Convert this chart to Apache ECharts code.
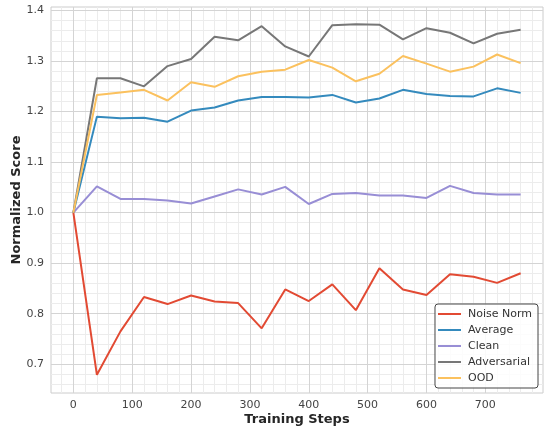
<!DOCTYPE html>
<html>
<head>
<meta charset="utf-8">
<script src="https://cdn.jsdelivr.net/npm/echarts@6/dist/echarts.min.js"></script>
<style>
  html, body { margin: 0; padding: 0; background: #fff; }
  #main { width: 544px; height: 427px; }
</style>
</head>
<body>
<div id="main"></div>
<script>
// training steps (x)
var steps = [0, 40, 80, 120, 160, 200, 240, 280, 320, 360, 400, 440, 480, 520, 560, 600, 640, 680, 720, 760];

// series values
var noiseNorm = [1.0, 0.679, 0.765, 0.833, 0.819, 0.836, 0.824, 0.821, 0.771, 0.848, 0.825, 0.858, 0.807, 0.890, 0.848, 0.837, 0.878, 0.873, 0.861, 0.880];
var average = [1.0, 1.190, 1.187, 1.188, 1.180, 1.202, 1.208, 1.222, 1.229, 1.229, 1.228, 1.233, 1.218, 1.226, 1.243, 1.235, 1.231, 1.230, 1.246, 1.237];
var clean = [1.0, 1.052, 1.027, 1.027, 1.024, 1.018, 1.032, 1.046, 1.036, 1.051, 1.017, 1.037, 1.039, 1.034, 1.034, 1.029, 1.053, 1.039, 1.036, 1.036];
var adversarial = [1.0, 1.266, 1.266, 1.250, 1.290, 1.304, 1.348, 1.341, 1.369, 1.329, 1.309, 1.371, 1.373, 1.372, 1.343, 1.365, 1.356, 1.335, 1.354, 1.362];
var ood = [1.0, 1.233, 1.238, 1.243, 1.222, 1.258, 1.249, 1.270, 1.279, 1.283, 1.302, 1.287, 1.260, 1.275, 1.310, 1.295, 1.279, 1.289, 1.313, 1.296];

// tick labels
var xMajorTicks = [0, 100, 200, 300, 400, 500, 600, 700];
var xMinorTicks = [-20, 0, 20, 40, 60, 80, 100, 120, 140, 160, 180, 200, 220, 240, 260, 280, 300, 320, 340, 360, 380, 400, 420, 440, 460, 480, 500, 520, 540, 560, 580, 600, 620, 640, 660, 680, 700, 720, 740, 760, 780];
var yMajorTicks = [0.7, 0.8, 0.9, 1.0, 1.1, 1.2, 1.3, 1.4];
var yMinorTicks = [0.66, 0.68, 0.7, 0.72, 0.74, 0.76, 0.78, 0.8, 0.82, 0.84, 0.86, 0.88, 0.9, 0.92, 0.94, 0.96, 0.98, 1.0, 1.02, 1.04, 1.06, 1.08, 1.1, 1.12, 1.14, 1.16, 1.18, 1.2, 1.22, 1.24, 1.26, 1.28, 1.3, 1.32, 1.34, 1.36, 1.38, 1.4];

var seriesNames = ['Noise Norm', 'Average', 'Clean', 'Adversarial', 'OOD'];
var seriesData = [noiseNorm, average, clean, adversarial, ood];
var colors = ['#E24A33', '#348ABD', '#988ED5', '#777777', '#FBC15E'];

var FONT = 'DejaVu Sans';

function pairs(ys) {
    var out = [];
    for (var i = 0; i < steps.length; i++) {
        out.push([steps[i], ys[i]]);
    }
    return out;
}

var chart = echarts.init(document.getElementById('main'), null, { renderer: 'canvas' });

var xRange = { min: -38, max: 798 };
var yRange = { min: 0.643, max: 1.407 };

var series = [];
for (var i = 0; i < seriesNames.length; i++) {
    series.push({
        name: seriesNames[i],
        type: 'line',
        data: pairs(seriesData[i]),
        showSymbol: false,
        symbol: 'none',
        lineStyle: { width: 2, color: colors[i] },
        itemStyle: { color: colors[i] },
        z: 3,
        animation: false
    });
}

var option = {
    animation: false,
    textStyle: { fontFamily: FONT },
    grid: {
        left: 51, right: 1, top: 7, bottom: 34,
        show: true, borderColor: '#cccccc', borderWidth: 1,
        containLabel: false,
        outerBoundsMode: 'none'
    },
    legend: {
        orient: 'vertical',
        right: 6,
        bottom: 39,
        data: seriesNames,
        icon: 'rect',
        itemWidth: 23,
        itemHeight: 2,
        itemGap: 2,
        padding: [3, 6, 3, 3],
        borderColor: '#444444',
        borderWidth: 1,
        borderRadius: 3,
        backgroundColor: 'rgba(255,255,255,0.85)',
        textStyle: { fontFamily: FONT, fontSize: 11, color: '#333333', lineHeight: 14, padding: [0, 0, 0, 2] }
    },
    xAxis: [
        {
            type: 'value', min: xRange.min, max: xRange.max,
            name: 'Training Steps', nameLocation: 'middle', nameGap: 20, nameMoveOverlap: false,
            nameTextStyle: { fontFamily: FONT, fontSize: 13, fontWeight: 'bold', color: '#262626' },
            axisLine: { show: false },
            axisTick: { show: false, customValues: xMajorTicks },
            axisLabel: { customValues: xMajorTicks, fontFamily: FONT, fontSize: 11, color: '#444444', margin: 7 },
            splitLine: { show: true, lineStyle: { color: '#d4d4d4', width: 1 } },
            z: 2
        },
        {
            type: 'value', min: xRange.min, max: xRange.max, position: 'bottom',
            axisLine: { show: false },
            axisTick: { show: false, customValues: xMinorTicks },
            axisLabel: { show: false, customValues: xMinorTicks },
            splitLine: { show: true, lineStyle: { color: '#ececec', width: 1 } },
            z: 1
        }
    ],
    yAxis: [
        {
            type: 'value', min: yRange.min, max: yRange.max,
            name: 'Normalized Score', nameLocation: 'middle', nameGap: 28, nameMoveOverlap: false,
            nameTextStyle: { fontFamily: FONT, fontSize: 13, fontWeight: 'bold', color: '#262626' },
            axisLine: { show: false },
            axisTick: { show: false, customValues: yMajorTicks },
            axisLabel: {
                customValues: yMajorTicks, fontFamily: FONT, fontSize: 11, color: '#444444', margin: 7,
                formatter: function (v) { return v.toFixed(1); }
            },
            splitLine: { show: true, lineStyle: { color: '#d4d4d4', width: 1 } },
            z: 2
        },
        {
            type: 'value', min: yRange.min, max: yRange.max, position: 'left',
            axisLine: { show: false },
            axisTick: { show: false, customValues: yMinorTicks },
            axisLabel: { show: false, customValues: yMinorTicks },
            splitLine: { show: true, lineStyle: { color: '#ececec', width: 1 } },
            z: 1
        }
    ],
    series: series
};

chart.setOption(option);
</script>
</body>
</html>
